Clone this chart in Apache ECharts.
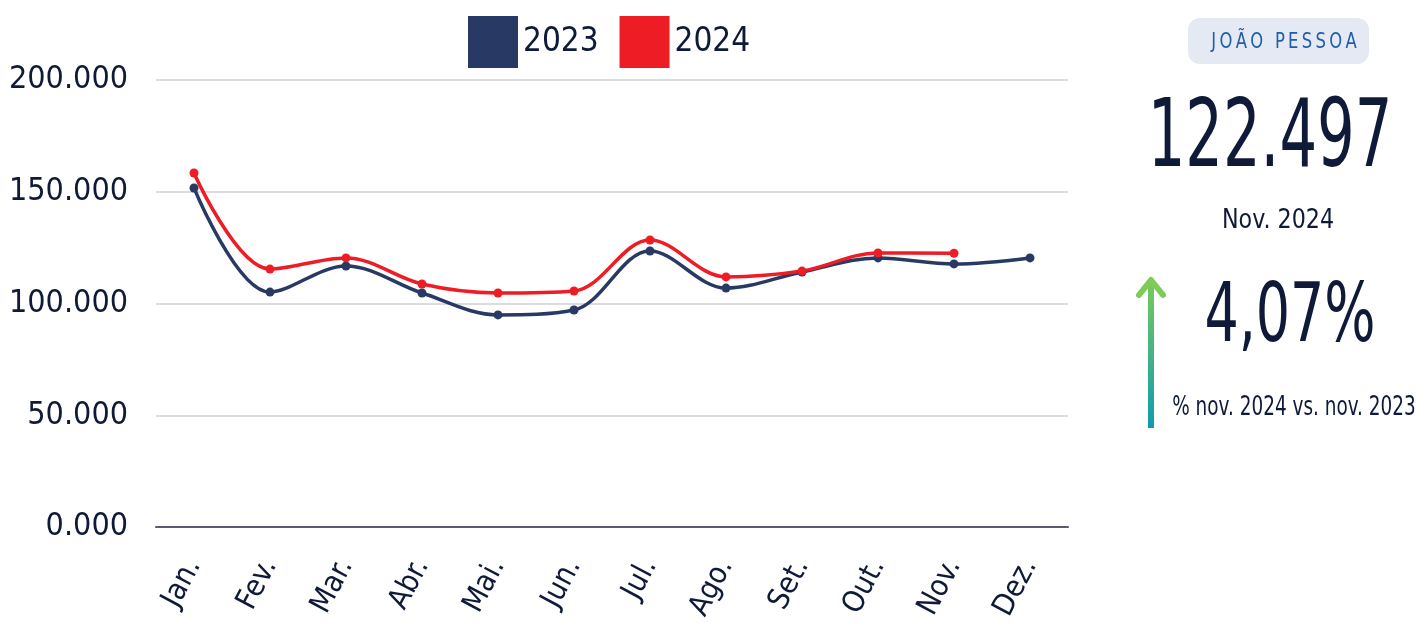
<!DOCTYPE html>
<html>
    <head>
        <meta charset="utf-8">
        <title>João Pessoa</title>
        <style>html,body{margin:0;padding:0;background:#fff}#chart{width:1419px;height:623px}</style>
    </head>
    <body>
        <div id="chart"></div>
        <script type="text/javascript" src="https://cdn.jsdelivr.net/npm/echarts@6/dist/echarts.min.js"></script>
        <script>
            const months = ['Jan.', 'Fev.', 'Mar.', 'Abr.', 'Mai.', 'Jun.', 'Jul.', 'Ago.', 'Set.', 'Out.', 'Nov.', 'Dez.'];
            const values2023 = [151700, 105100, 116800, 104700, 94900, 97100, 123500, 106900, 114100, 120400, 117700, 120400];
            const values2024 = [158400, 115400, 120400, 108700, 104700, 105600, 128400, 111900, 114500, 122600, 122497];
            const yTicks = [0, 50000, 100000, 150000, 200000];
            const cityName = 'JOÃO PESSOA';
            const bigValue = '122.497';
            const bigValueLabel = 'Nov. 2024';
            const pctChange = '4,07%';
            const pctLabel = '% nov. 2024 vs. nov. 2023';

            const font = '"DejaVu Sans Condensed", "Liberation Sans Narrow", sans-serif';
            const ink = '#0e1a38';

            const $chart = echarts.init(document.getElementById('chart'));

            // texto comprimido na horizontal (fonte condensada não disponível)
            function label(text, x, y, size, sx, color) {
                return {
                    type: 'text',
                    x: x, y: y,
                    scaleX: sx,
                    style: {
                        text: text,
                        fill: color || ink,
                        font: size + 'px ' + font,
                        align: 'center',
                        verticalAlign: 'middle'
                    }
                };
            }

            $chart.setOption({
                animation: false,
                textStyle: { fontFamily: font },
                grid: { left: 156, right: 351, top: 80, bottom: 96, outerBoundsMode: 'none', containLabel: false },
                legend: {
                    top: 11,
                    left: 463,
                    itemWidth: 50,
                    itemHeight: 52,
                    itemGap: 21,
                    icon: 'rect',
                    textStyle: { fontSize: 33, color: ink, fontFamily: font },
                    data: ['2023', '2024']
                },
                xAxis: {
                    type: 'category',
                    data: months,
                    boundaryGap: true,
                    axisLine: { lineStyle: { color: '#5b5a6e', width: 2 } },
                    axisTick: { show: false },
                    axisLabel: { rotate: 62, fontSize: 30, color: ink, margin: 34, fontFamily: font }
                },
                yAxis: {
                    type: 'value',
                    min: yTicks[0],
                    max: yTicks[yTicks.length - 1],
                    interval: 50000,
                    axisLine: { show: false },
                    axisTick: { show: false },
                    splitLine: { lineStyle: { color: '#cfcfd6', width: 1.5 } },
                    axisLabel: {
                        fontSize: 32,
                        color: ink,
                        margin: 28,
                        fontFamily: font,
                        formatter: v => v === 0 ? '0.000' : (v / 1000).toFixed(3)
                    }
                },
                series: [
                    {
                        name: '2023',
                        type: 'line',
                        data: values2023,
                        smooth: 0.35,
                        symbol: 'circle',
                        symbolSize: 9,
                        itemStyle: { color: '#283a64' },
                        lineStyle: { color: '#283a64', width: 3.5 }
                    },
                    {
                        name: '2024',
                        type: 'line',
                        data: values2024,
                        smooth: 0.35,
                        symbol: 'circle',
                        symbolSize: 9,
                        itemStyle: { color: '#ee1c25' },
                        lineStyle: { color: '#ee1c25', width: 3.5 }
                    }
                ],
                graphic: [
                    {
                        type: 'rect',
                        shape: { x: 1188, y: 18, width: 181, height: 46, r: 12 },
                        style: { fill: '#e4e9f4' }
                    },
                    label(cityName.split('').join('\u2009'), 1284, 42, 22, 0.83, '#1f5ea8'),
                    label(bigValue, 1270, 142, 94, 0.7),
                    label(bigValueLabel, 1278, 221, 26, 0.95),
                    label(pctChange, 1290, 320, 82, 0.73),
                    label(pctLabel, 1294, 408, 27, 0.76),
                    {
                        type: 'polyline',
                        shape: { points: [[1151, 428], [1151, 280]] },
                        style: {
                            lineWidth: 6,
                            stroke: new echarts.graphic.LinearGradient(0, 1, 0, 0, [
                                { offset: 0, color: '#0a9bb2' },
                                { offset: 1, color: '#7ecb58' }
                            ]),
                            fill: null
                        }
                    },
                    {
                        type: 'polyline',
                        shape: { points: [[1139, 295], [1151, 280], [1163, 295]] },
                        style: {
                            lineWidth: 6,
                            lineCap: 'round',
                            lineJoin: 'round',
                            stroke: '#7ecb58',
                            fill: null
                        }
                    }
                ]
            });
        </script>
    </body>
</html>
